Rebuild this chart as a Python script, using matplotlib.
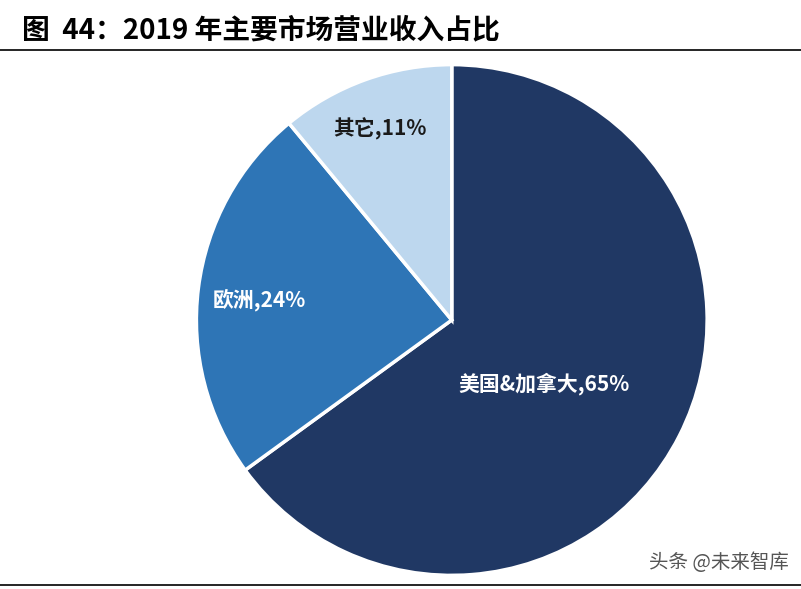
import matplotlib
matplotlib.use('Agg')
import matplotlib.pyplot as plt

plt.rcParams['font.family'] = ['Noto Sans CJK SC', 'DejaVu Sans']

labels = ['美国&加拿大', '欧洲', '其它']
values = [65, 24, 11]
colors = ['#203864', '#2E75B6', '#BDD7EE']
text_colors = ['white', 'white', '#1a1a1a']

fig = plt.figure(figsize=(8.01, 5.89), dpi=100)
ax = fig.add_axes([0.242, 0.0187, 0.644, 0.876])
wedges, _ = ax.pie(values, colors=colors, startangle=90, counterclock=False,
                   wedgeprops=dict(edgecolor='white', linewidth=2.5))
ax.set_xlim(-1.01, 1.01)
ax.set_ylim(-1.01, 1.01)
ax.set_aspect('equal')

label_pos = [(0.36, -0.25), (-0.755, 0.078), (-0.28, 0.75)]
for (x, y), lab, v, c in zip(label_pos, labels, values, text_colors):
    ax.text(x, y, f'{lab},{v}%', color=c, fontsize=15, fontweight='bold',
            ha='center', va='center')

fig.text(0.028, 0.948, '图  44：2019 年主要市场营业收入占比', fontsize=20,
         fontweight='bold', ha='left', va='center')
fig.add_artist(plt.Line2D([0, 1], [0.915, 0.915], color='black', linewidth=1.2))
fig.add_artist(plt.Line2D([0, 1], [0.007, 0.007], color='black', linewidth=1.2))
fig.text(0.985, 0.045, '头条 @未来智库', fontsize=14, color='#555555',
         ha='right', va='center')

fig.savefig('out.png', dpi=100)
